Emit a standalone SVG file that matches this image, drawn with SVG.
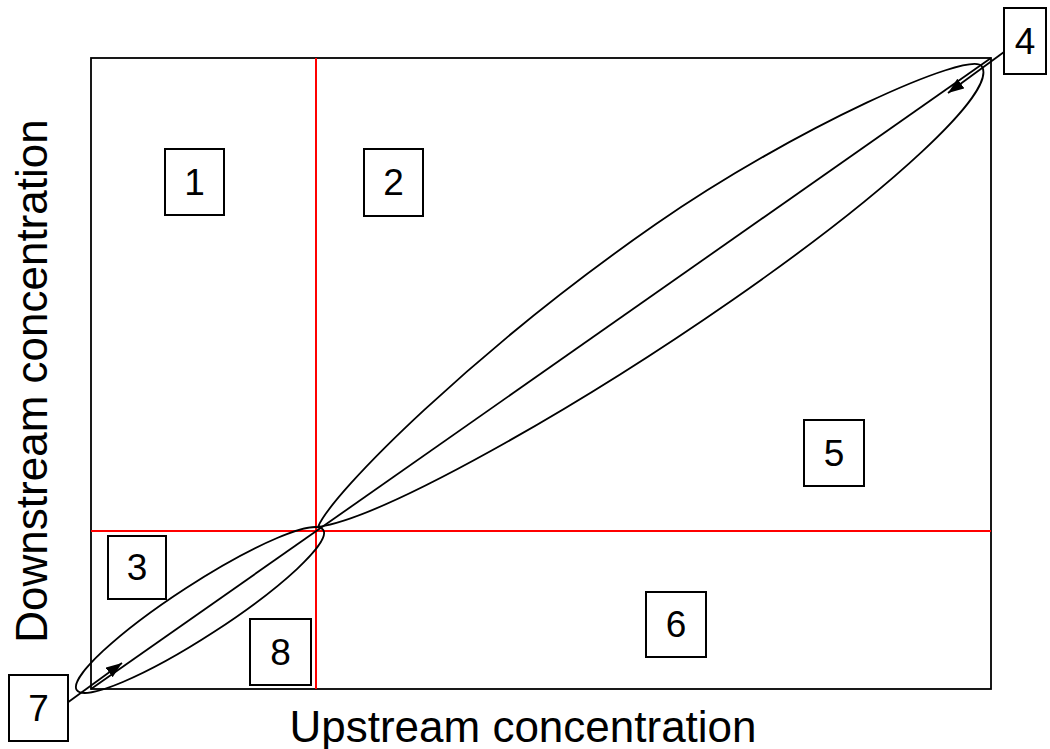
<svg xmlns="http://www.w3.org/2000/svg" width="1050" height="749" viewBox="0 0 1050 749">
<style>
.frame{fill:none;stroke:#000;stroke-width:1.8}
.red{stroke:#ff0000;stroke-width:2}
.ln{fill:none;stroke:#000;stroke-width:1.8}
.box rect{fill:#fff;stroke:#000;stroke-width:2}
.box text{font-family:"Liberation Sans",Arial,sans-serif;font-size:37px;text-anchor:middle;fill:#000}
.axis{font-family:"Liberation Sans",Arial,sans-serif;font-size:44px;text-anchor:middle;fill:#000}
</style>
<defs>
<marker id="ah" viewBox="0 0 16 12" refX="16" refY="6" markerWidth="16" markerHeight="12" markerUnits="userSpaceOnUse" orient="auto">
<path d="M0,0 L16,6 L0,12 Z" fill="#000"/>
</marker>
</defs>
<rect id="plot-frame" class="frame" x="91" y="58" width="900" height="631"/>
<g id="thresholds">
<line class="red" x1="316" y1="58" x2="316" y2="689"/>
<line class="red" x1="91" y1="531" x2="991" y2="531"/>
</g>
<g id="connectors">
<line class="ln" x1="91" y1="689" x2="991" y2="58"/>
<g transform="translate(318,527) rotate(-34.78)">
<path class="ln" d="M0,0 C30,-20 230,-56 450,-56 C620,-56 808,-20 808,0 C808,30 660,50 470,50 C280,50 60,30 0,0 Z"/>
</g>
<ellipse class="ln" cx="200" cy="610" rx="147" ry="26" transform="rotate(-33 200 610)"/>
<line class="ln" x1="1004" y1="52" x2="948" y2="93" marker-end="url(#ah)"/>
<line class="ln" x1="67" y1="703" x2="122" y2="663" marker-end="url(#ah)"/>
</g>
<g id="node1" class="box"><rect x="165" y="149" width="59" height="66"/><text x="194.5" y="195">1</text></g>
<g id="node2" class="box"><rect x="364" y="149" width="59" height="67"/><text x="393.5" y="195">2</text></g>
<g id="node3" class="box"><rect x="108" y="536" width="58" height="63"/><text x="137" y="580">3</text></g>
<g id="node4" class="box"><rect x="1004" y="8" width="42" height="66"/><text x="1025" y="54">4</text></g>
<g id="node5" class="box"><rect x="804" y="420" width="60" height="66"/><text x="834" y="466">5</text></g>
<g id="node6" class="box"><rect x="646" y="592" width="60" height="65"/><text x="676" y="637">6</text></g>
<g id="node7" class="box"><rect x="9" y="675" width="59" height="66"/><text x="38.5" y="721">7</text></g>
<g id="node8" class="box"><rect x="250" y="619" width="61" height="66"/><text x="280.5" y="665">8</text></g>
<text id="x-label" class="axis" x="523" y="742">Upstream concentration</text>
<text id="y-label" class="axis" transform="translate(47,381) rotate(-90)">Downstream concentration</text>
</svg>
